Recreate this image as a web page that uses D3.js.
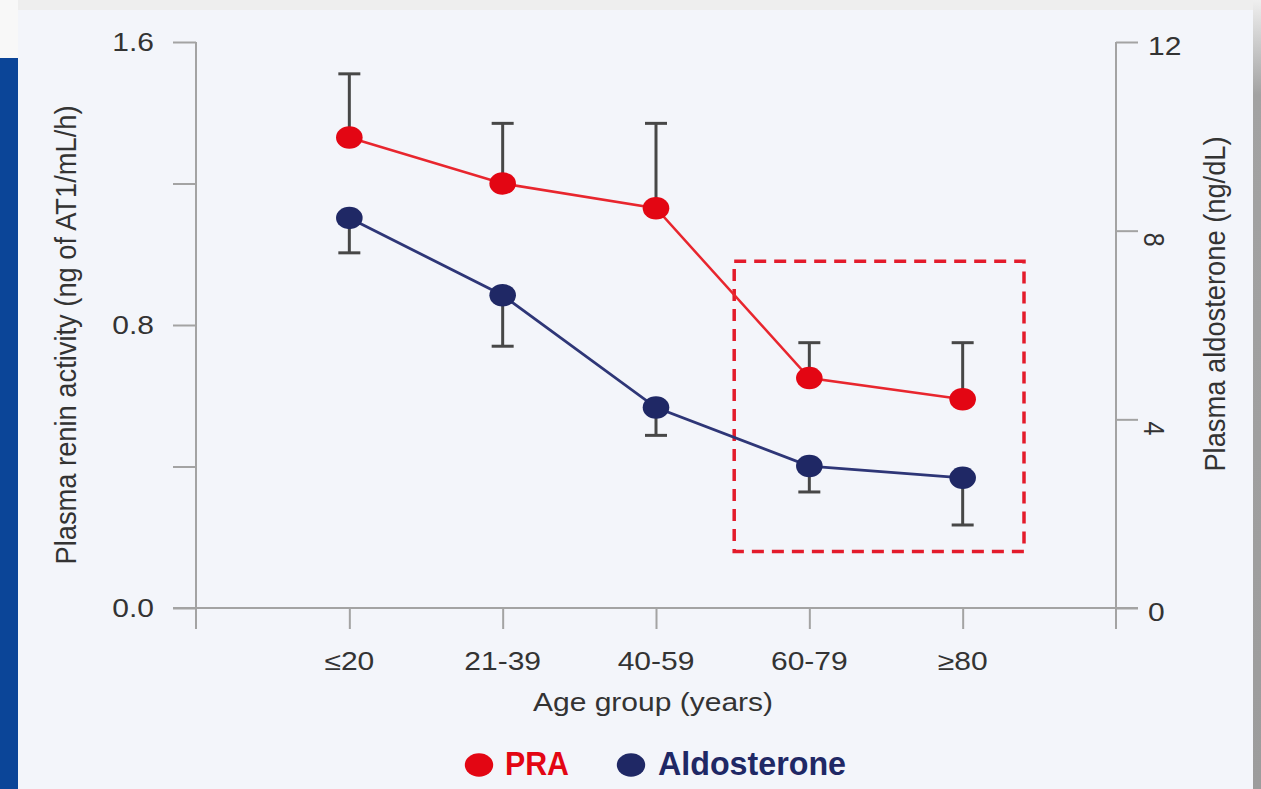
<!DOCTYPE html>
<html>
<head>
<meta charset="utf-8">
<script src="https://cdn.jsdelivr.net/npm/d3@7"></script>
<style>
  html, body { margin: 0; padding: 0; background: #eeeeee; }
  svg { display: block; }
  text { font-family: "Liberation Sans", Arial, Helvetica, sans-serif; fill: #333; }
</style>
</head>
<body>
<svg id="chart" width="1261" height="789"></svg>
<script>
// ---------- data ----------
const categories = ["≤20", "21-39", "40-59", "60-79", "≥80"];
const praMean   = [1.33, 1.20, 1.13, 0.65, 0.59];
const praErr    = [0.18, 0.17, 0.24, 0.10, 0.16];
const aldoMean  = [8.27, 6.63, 4.25, 3.01, 2.76];
const aldoErr   = [0.74, 1.08, 0.59, 0.55, 1.00];
const leftTicks  = [0, 0.4, 0.8, 1.2, 1.6];
const leftTickLabels = ["0.0", "", "0.8", "", "1.6"];
const rightTicks = [0, 4, 8, 12];
const rightTickLabels = ["0", "4", "8", "12"];
const seriesNames = ["PRA", "Aldosterone"];
const highlightCats = ["60-79", "≥80"];
const highlightRange = [0.16, 0.98]; // in PRA units

// ---------- styles ----------
const RED = "#e30613", RED_LINE = "#e8262e";
const NAVY = "#1f2865", NAVY_LINE = "#2e3677";
const AXIS = "#a3a3a3";
const SX = 1.2; // horizontal stretch of the source picture

const svg = d3.select("#chart");

// ---------- frame ----------
svg.append("rect").attr("x", 0).attr("y", 0).attr("width", 1261).attr("height", 789).attr("fill", "#eeeeee");
const defs = svg.append("defs");
const rg = defs.append("linearGradient").attr("id", "rightEdge").attr("x1", 0).attr("y1", 0).attr("x2", 0).attr("y2", 1);
rg.append("stop").attr("offset", "0").attr("stop-color", "#efefef");
rg.append("stop").attr("offset", "0.12").attr("stop-color", "#a2a2a2");
rg.append("stop").attr("offset", "1").attr("stop-color", "#9c9c9c");
svg.append("rect").attr("x", 1253).attr("y", 0).attr("width", 8).attr("height", 789).attr("fill", "url(#rightEdge)");
svg.append("rect").attr("x", 0).attr("y", 0).attr("width", 18).attr("height", 58).attr("fill", "#f8f8f8");
svg.append("rect").attr("x", 18).attr("y", 10).attr("width", 1235).attr("height", 779).attr("fill", "#f3f5fa");
svg.append("rect").attr("x", 0).attr("y", 58).attr("width", 18).attr("height", 731).attr("fill", "#0b4598");

// ---------- scales ----------
const x = d3.scalePoint().domain(categories).range([196, 1116]).padding(1);
const yL = d3.scaleLinear().domain([0, 1.6]).range([608, 42]);
const yR = d3.scaleLinear().domain([0, 12]).range([608, 42]);
const axisBottomY = 629;

function stretchText(g, tx, ty, str, anchor, size, extra) {
  const t = g.append("text")
    .attr("transform", `translate(${tx},${ty}) scale(${SX},1)` + (extra || ""))
    .attr("text-anchor", anchor)
    .style("font-size", size + "px")
    .text(str);
  return t;
}

// ---------- axes ----------
const axG = svg.append("g");
// left axis
const leftAxis = axG.append("g").attr("transform", `translate(${x.range()[0]},0)`)
  .call(d3.axisLeft(yL).tickValues(leftTicks).tickSize(23).tickFormat(""));
leftAxis.select(".domain").remove();
leftAxis.selectAll(".tick line").attr("stroke", AXIS).attr("stroke-width", 2);
leftTicks.forEach((v, i) => {
  if (leftTickLabels[i]) stretchText(axG, 154, yL(v) + 9, leftTickLabels[i], "end", 25);
});
axG.append("line").attr("x1", x.range()[0]).attr("x2", x.range()[0])
  .attr("y1", yL(1.6)).attr("y2", axisBottomY).attr("stroke", AXIS).attr("stroke-width", 2);

// right axis
const rightAxis = axG.append("g").attr("transform", `translate(${x.range()[1]},0)`)
  .call(d3.axisRight(yR).tickValues(rightTicks).tickSize(22).tickFormat(""));
rightAxis.select(".domain").remove();
rightAxis.selectAll(".tick line").attr("stroke", AXIS).attr("stroke-width", 2);
rightTicks.forEach((v, i) => {
  if (v === 4 || v === 8) {
    axG.append("text")
      .attr("transform", `translate(1155,${yR(v) + 9}) scale(${SX},1) rotate(90)`)
      .attr("text-anchor", "middle").attr("dy", "0.35em")
      .style("font-size", "25px").text(rightTickLabels[i]);
  } else {
    stretchText(axG, 1148, yR(v) + 13, rightTickLabels[i], "start", 25);
  }
});
axG.append("line").attr("x1", x.range()[1]).attr("x2", x.range()[1])
  .attr("y1", yR(12)).attr("y2", axisBottomY).attr("stroke", AXIS).attr("stroke-width", 2);

// bottom axis
const bottomAxis = axG.append("g").attr("transform", `translate(0,${yL(0)})`)
  .call(d3.axisBottom(x).tickSize(axisBottomY - yL(0)).tickFormat(""));
bottomAxis.select(".domain").remove();
bottomAxis.selectAll(".tick line").attr("stroke", AXIS).attr("stroke-width", 2);
axG.append("line").attr("x1", 173).attr("x2", 1138)
  .attr("y1", yL(0)).attr("y2", yL(0)).attr("stroke", AXIS).attr("stroke-width", 2);
categories.forEach(c => stretchText(axG, x(c), 670, c, "middle", 25));

// axis titles
stretchText(svg, 653, 711, "Age group (years)", "middle", 25);
svg.append("text")
  .attr("transform", `translate(76,335) scale(1.1,1) rotate(-90)`)
  .attr("text-anchor", "middle").style("font-size", "27.3px")
  .text("Plasma renin activity (ng of AT1/mL/h)");
svg.append("text")
  .attr("transform", `translate(1225,304) scale(1.1,1) rotate(-90)`)
  .attr("text-anchor", "middle").style("font-size", "27.3px")
  .text("Plasma aldosterone (ng/dL)");

// ---------- highlight box ----------
const step = x.step();
svg.append("rect")
  .attr("x", x(highlightCats[0]) - 0.49 * step)
  .attr("y", yL(highlightRange[1]))
  .attr("width", (x(highlightCats[1]) + 0.4 * step) - (x(highlightCats[0]) - 0.49 * step))
  .attr("height", yL(highlightRange[0]) - yL(highlightRange[1]))
  .attr("fill", "none").attr("stroke", "#e31b2b").attr("stroke-width", 3.5)
  .attr("stroke-dasharray", "12,8");

// ---------- series ----------
const pra = categories.map((c, i) => ({ c, v: praMean[i], e: praErr[i] }));
const aldo = categories.map((c, i) => ({ c, v: aldoMean[i], e: aldoErr[i] }));

const ERR = "#474747";
function errorBars(data, yScale, dir) {
  const g = svg.append("g");
  g.selectAll("line.stem").data(data).join("line")
    .attr("x1", d => x(d.c)).attr("x2", d => x(d.c))
    .attr("y1", d => yScale(d.v)).attr("y2", d => yScale(d.v + dir * d.e))
    .attr("stroke", ERR).attr("stroke-width", 3);
  g.selectAll("line.cap").data(data).join("line")
    .attr("x1", d => x(d.c) - 11).attr("x2", d => x(d.c) + 11)
    .attr("y1", d => yScale(d.v + dir * d.e)).attr("y2", d => yScale(d.v + dir * d.e))
    .attr("stroke", ERR).attr("stroke-width", 3);
}
errorBars(pra, yL, 1);
errorBars(aldo, yR, -1);

svg.append("path").datum(pra)
  .attr("d", d3.line().x(d => x(d.c)).y(d => yL(d.v)))
  .attr("fill", "none").attr("stroke", RED_LINE).attr("stroke-width", 2.5);
svg.append("path").datum(aldo)
  .attr("d", d3.line().x(d => x(d.c)).y(d => yR(d.v)))
  .attr("fill", "none").attr("stroke", NAVY_LINE).attr("stroke-width", 2.8);

svg.append("g").selectAll("ellipse").data(pra).join("ellipse")
  .attr("cx", d => x(d.c)).attr("cy", d => yL(d.v))
  .attr("rx", 13.3).attr("ry", 11.2).attr("fill", RED);
svg.append("g").selectAll("ellipse").data(aldo).join("ellipse")
  .attr("cx", d => x(d.c)).attr("cy", d => yR(d.v))
  .attr("rx", 13.3).attr("ry", 11.2).attr("fill", NAVY);

// ---------- legend ----------
const legend = svg.append("g");
const legendItems = [
  { name: seriesNames[0], color: RED, dotX: 479, textX: 505, len: 64 },
  { name: seriesNames[1], color: NAVY, dotX: 631, textX: 658, len: 188 }
];
legendItems.forEach(it => {
  legend.append("ellipse").attr("cx", it.dotX).attr("cy", 765).attr("rx", 14.2).attr("ry", 11.7).attr("fill", it.color);
  legend.append("text").attr("x", it.textX).attr("y", 775)
    .attr("textLength", it.len).attr("lengthAdjust", "spacingAndGlyphs")
    .style("font-size", "34px").style("font-weight", "bold").style("fill", it.color)
    .text(it.name);
});
</script>
</body>
</html>
